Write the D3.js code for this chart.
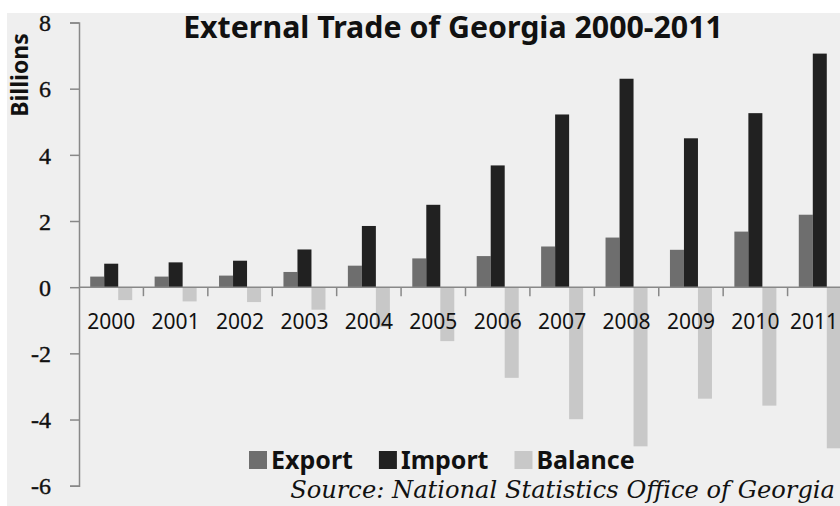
<!DOCTYPE html>
<html>
<head>
<meta charset="utf-8">
<script src="https://cdn.jsdelivr.net/npm/d3@7"></script>
<style>
  body { margin: 0; background: #fff; }
  svg { display: block; }
</style>
</head>
<body>
<svg id="chart" width="840" height="506"></svg>
<script>
// values in billions (USD)
let years = ['2000','2001','2002','2003','2004','2005','2006','2007','2008','2009','2010','2011'];
let series = ['Export', 'Import', 'Balance'];
let exportVals  = [0.32, 0.32, 0.35, 0.46, 0.65, 0.87, 0.94, 1.23, 1.50, 1.13, 1.68, 2.19];
let importVals  = [0.71, 0.75, 0.80, 1.14, 1.85, 2.49, 3.68, 5.22, 6.30, 4.50, 5.26, 7.06];
let balanceVals = [-0.39, -0.43, -0.45, -0.68, -1.20, -1.63, -2.74, -3.99, -4.81, -3.37, -3.58, -4.87];
let yTicks = [-6, -4, -2, 0, 2, 4, 6, 8];

let colors = { Export: '#6e6e6e', Import: '#212121', Balance: '#c8c8c8' };

let rows = years.map((yr, i) => ({
    year: yr,
    Export: exportVals[i],
    Import: importVals[i],
    Balance: balanceVals[i]
}));

let svg = d3.select('#chart');

// grey chart area
svg.append('rect')
    .attr('x', 7).attr('y', 13)
    .attr('width', 833).attr('height', 493)
    .attr('fill', '#efefef');

let x = d3.scaleBand()
    .domain(years)
    .range([79, 852])
    .padding(0);

let xs = d3.scaleBand()
    .domain(series)
    .range([0, x.bandwidth()])
    .paddingInner(0)
    .paddingOuter(0.8);

let y = d3.scaleLinear()
    .domain([-6, 8])
    .range([485.7, 22.5]);

// bars
let groups = svg.append('g')
    .selectAll('.yr_g')
    .data(rows)
    .join('g')
    .attr('class', 'yr_g')
    .attr('transform', d => 'translate(' + x(d.year) + ',0)');

groups.selectAll('rect')
    .data(d => series.map(s => ({ key: s, value: d[s] })))
    .join('rect')
    .attr('x', d => xs(d.key))
    .attr('width', xs.bandwidth())
    .attr('y', d => y(Math.max(0, d.value)))
    .attr('height', d => Math.abs(y(d.value) - y(0)))
    .attr('fill', d => colors[d.key]);

// y axis
let yAxis = svg.append('g')
    .attr('transform', 'translate(79,0)')
    .call(d3.axisLeft(y).tickValues(yTicks).tickSize(9).tickPadding(19).tickFormat(d => String(d)));

yAxis.select('.domain').attr('stroke', '#888').attr('stroke-width', 1.5);
yAxis.selectAll('.tick line').attr('stroke', '#888').attr('stroke-width', 1.5);
yAxis.selectAll('.tick text')
    .attr('font-family', '"Liberation Serif", "DejaVu Serif", serif')
    .attr('font-size', '24px')
    .attr('stroke', '#111')
    .attr('stroke-width', 0.4)
    .attr('fill', '#111')
    .attr('dy', '0.34em');

// x axis along zero
let xAxis = svg.append('g')
    .attr('transform', 'translate(0,' + y(0) + ')');

xAxis.append('line')
    .attr('x1', 79).attr('x2', 852)
    .attr('stroke', '#888').attr('stroke-width', 1.5);

xAxis.selectAll('.xtick')
    .data(years.slice(1))
    .join('line')
    .attr('class', 'xtick')
    .attr('x1', d => x(d)).attr('x2', d => x(d))
    .attr('y1', 0).attr('y2', 9)
    .attr('stroke', '#888').attr('stroke-width', 1.5);

xAxis.selectAll('.xlabel')
    .data(years)
    .join('text')
    .attr('class', 'xlabel')
    .attr('x', d => x(d) + x.bandwidth() / 2)
    .attr('y', 42)
    .attr('text-anchor', 'middle')
    .attr('font-family', '"Noto Sans", "Open Sans", sans-serif')
    .attr('font-size', '21px')
    .attr('fill', '#111')
    .text(d => d)
    .each(function () {
        // keep the last label inside the picture
        let w = this.getComputedTextLength();
        let cx = +this.getAttribute('x');
        if (cx + w / 2 > 838) this.setAttribute('x', 838 - w / 2);
    });

// title
let title = svg.append('text')
    .attr('x', 453)
    .attr('y', 38)
    .attr('text-anchor', 'middle')
    .attr('font-family', '"Noto Sans", "Open Sans", sans-serif')
    .attr('font-weight', 'bold')
    .attr('font-size', '28px')
    .attr('fill', '#111')
    .text('External Trade of Georgia 2000-2011');

let tw = title.node().getComputedTextLength();
title.attr('font-size', (28 * 540 / tw) + 'px');

// y axis title
svg.append('text')
    .attr('transform', 'translate(28,75) rotate(-90)')
    .attr('text-anchor', 'middle')
    .attr('font-family', '"Noto Sans", "Open Sans", sans-serif')
    .attr('font-weight', 'bold')
    .attr('font-size', '23px')
    .attr('fill', '#111')
    .text('Billions');

// legend
let legend = svg.append('g');
let lx = 249;
series.forEach(s => {
    legend.append('rect')
        .attr('x', lx).attr('y', 451)
        .attr('width', 18).attr('height', 18)
        .attr('fill', colors[s]);
    let t = legend.append('text')
        .attr('x', lx + 22)
        .attr('y', 469)
        .attr('font-family', '"Noto Sans", "Open Sans", sans-serif')
        .attr('font-weight', 'bold')
        .attr('font-size', '25px')
        .attr('fill', '#111')
        .text(s);
    lx += 22 + t.node().getComputedTextLength() + 26;
});

// source note
let src = svg.append('text')
    .attr('x', 835)
    .attr('y', 498)
    .attr('text-anchor', 'end')
    .attr('font-family', '"DejaVu Serif", "Liberation Serif", serif')
    .attr('font-style', 'italic')
    .attr('font-size', '22px')
    .attr('fill', '#111')
    .text('Source: National Statistics Office of Georgia');

let sw = src.node().getComputedTextLength();
src.attr('font-size', (22 * 545 / sw) + 'px');
</script>
</body>
</html>
